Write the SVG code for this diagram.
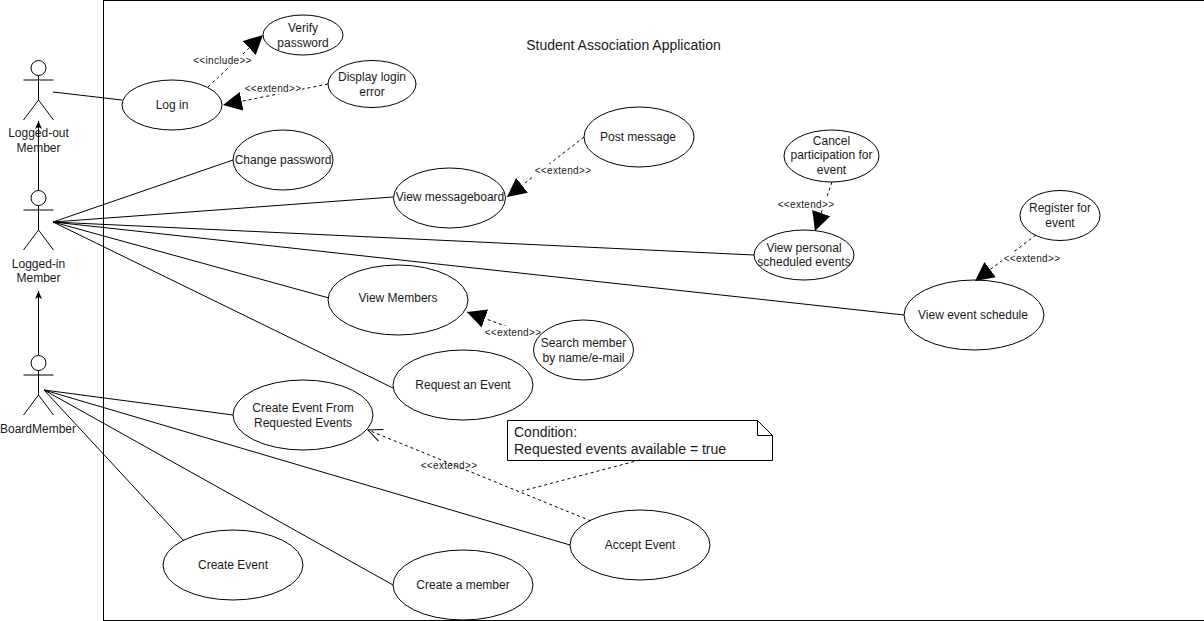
<svg xmlns="http://www.w3.org/2000/svg" width="1204" height="621" viewBox="0 0 1204 621">
<defs>
<style>
text{font-family:"Liberation Sans",Arial,sans-serif;font-size:12px;fill:#1a1a1a;text-anchor:middle}
.uc ellipse{fill:#fff;stroke:#000;stroke-width:1}
.a{fill:none;stroke:#000;stroke-width:1}
.c line{stroke:#000;stroke-width:1;fill:none}
.c line.d{stroke-dasharray:3 3}
.big{marker-end:url(#block)}
.gen{marker-end:url(#small)}
.open{marker-end:url(#open)}
.lb{font-size:10px;letter-spacing:.32px}
.bg{fill:#fff;stroke:none}
</style>
<marker id="block" markerUnits="userSpaceOnUse" markerWidth="22" markerHeight="22" refX="19" refY="10" orient="auto"><path d="M0,0.500L19,10L0,19.500Z" fill="#000"/></marker>
<marker id="small" markerUnits="userSpaceOnUse" markerWidth="10" markerHeight="10" refX="8" refY="4" orient="auto"><path d="M0,0.500L8,4L0,7.500L2,4Z" fill="#000"/></marker>
<marker id="open" markerUnits="userSpaceOnUse" markerWidth="16" markerHeight="16" refX="14.500" refY="7" orient="auto"><path d="M0.500,0.700L14.500,7L0.500,13.300" fill="none" stroke="#000"/></marker>
<g id="stick"><circle cx="0" cy="0" r="7.500" fill="#fff" stroke="#000"/><path class="a" d="M0,7.500V32M-15,12H15M0,32L-15,52M0,32L15,52"/></g>
</defs>
<rect id="system" x="103.500" y="0.500" width="1110" height="620" fill="#fff" stroke="#000"/>
<text id="title" x="623.500" y="50" style="font-size:14px">Student Association Application</text>

<g id="actor-logged-out"><use href="#stick" x="38.500" y="68"/><text x="38.500" y="137">Logged-out</text><text x="38.500" y="152">Member</text></g>
<g id="actor-logged-in"><use href="#stick" x="38.500" y="198"/><text x="38.500" y="268">Logged-in</text><text x="38.500" y="282">Member</text></g>
<g id="actor-board"><use href="#stick" x="38.500" y="363"/><text x="38" y="433">BoardMember</text></g>

<g id="uc-login" class="uc"><ellipse cx="172" cy="105" rx="50" ry="25"/><text x="172" y="109">Log in</text></g>
<g id="uc-verify" class="uc"><ellipse cx="303" cy="35" rx="40" ry="20"/><text x="303" y="32">Verify</text><text x="303" y="47">password</text></g>
<g id="uc-display-error" class="uc"><ellipse cx="372" cy="84" rx="44" ry="23.500"/><text x="372" y="81">Display login</text><text x="372" y="96">error</text></g>
<g id="uc-change-password" class="uc"><ellipse cx="283" cy="160" rx="50" ry="30"/><text x="283" y="164">Change password</text></g>
<g id="uc-messageboard" class="uc"><ellipse cx="449.500" cy="198" rx="56" ry="30"/><text x="450" y="201">View messageboard</text></g>
<g id="uc-post" class="uc"><ellipse cx="639" cy="137" rx="55" ry="30"/><text x="638" y="141">Post message</text></g>
<g id="uc-cancel" class="uc"><ellipse cx="831.500" cy="156" rx="47.500" ry="26"/><text x="831.500" y="145">Cancel</text><text x="831.500" y="159">participation for</text><text x="831.500" y="174">event</text></g>
<g id="uc-personal" class="uc"><ellipse cx="804" cy="255" rx="50" ry="25"/><text x="804" y="252">View personal</text><text x="804" y="266">scheduled events</text></g>
<g id="uc-register" class="uc"><ellipse cx="1060" cy="215.500" rx="40" ry="25"/><text x="1060" y="212">Register for</text><text x="1060" y="227">event</text></g>
<g id="uc-schedule" class="uc"><ellipse cx="974" cy="315" rx="70" ry="35"/><text x="973" y="319">View event schedule</text></g>
<g id="uc-members" class="uc"><ellipse cx="398" cy="300" rx="70" ry="35"/><text x="398" y="302">View Members</text></g>
<g id="uc-search" class="uc"><ellipse cx="583.500" cy="350" rx="50" ry="30"/><text x="583.500" y="347">Search member</text><text x="583.500" y="362">by name/e-mail</text></g>
<g id="uc-request" class="uc"><ellipse cx="463" cy="385" rx="70" ry="35"/><text x="463" y="389">Request an Event</text></g>
<g id="uc-from-requested" class="uc"><ellipse cx="303" cy="415" rx="70" ry="35"/><text x="303" y="412">Create Event From</text><text x="303" y="427">Requested Events</text></g>
<g id="uc-create-event" class="uc"><ellipse cx="233" cy="565" rx="70" ry="35"/><text x="233" y="569">Create Event</text></g>
<g id="uc-create-member" class="uc"><ellipse cx="463" cy="585" rx="70" ry="35"/><text x="463" y="589">Create a member</text></g>
<g id="uc-accept" class="uc"><ellipse cx="640" cy="545" rx="70" ry="35"/><text x="640" y="549">Accept Event</text></g>

<g id="note">
<path d="M507.500,420.500H757.500L772.500,435.500V460.500H507.500Z" fill="#fff" stroke="#000"/>
<path d="M757.500,420.500V435.500H772.500" fill="none" stroke="#000"/>
<text x="514" y="437" style="text-anchor:start;font-size:14px">Condition:</text>
<text x="514" y="454" style="text-anchor:start;font-size:14px">Requested events available = true</text>
</g>

<g id="connectors" class="c">
<line x1="38.500" y1="190" x2="38.500" y2="121" class="gen"/>
<line x1="38.500" y1="355" x2="38.500" y2="291" class="gen"/>
<line x1="53" y1="92" x2="122" y2="100"/>
<line x1="53" y1="222" x2="233" y2="160"/>
<line x1="53" y1="222" x2="393" y2="197"/>
<line x1="53" y1="222" x2="754" y2="255"/>
<line x1="53" y1="222" x2="904" y2="315"/>
<line x1="53" y1="222" x2="329" y2="298"/>
<line x1="53" y1="222" x2="393" y2="388"/>
<line x1="44" y1="390" x2="233" y2="415"/>
<line x1="44" y1="390" x2="570" y2="545"/>
<line x1="44" y1="390" x2="393" y2="585"/>
<line x1="44" y1="390" x2="184" y2="541"/>
<line class="d big" x1="208" y1="87" x2="263" y2="35"/>
<line class="d big" x1="328" y1="84" x2="223" y2="105"/>
<line class="d big" x1="584" y1="137" x2="507" y2="197"/>
<line class="d big" x1="832" y1="182" x2="815" y2="231"/>
<line class="d big" x1="1036" y1="235" x2="975" y2="281"/>
<line class="d big" x1="530" y1="335" x2="467" y2="312"/>
<line class="d open" x1="591" y1="521" x2="368" y2="430"/>
<line class="d" x1="640" y1="460" x2="522" y2="491"/>
</g>

<g id="connector-labels">
<rect class="bg" x="193" y="54" width="59" height="12"/><text class="lb" x="222.500" y="63.500">&lt;&lt;include&gt;&gt;</text>
<rect class="bg" x="244" y="82" width="58" height="12"/><text class="lb" x="273" y="91.500">&lt;&lt;extend&gt;&gt;</text>
<rect class="bg" x="534" y="164" width="58" height="12"/><text class="lb" x="563" y="173.500">&lt;&lt;extend&gt;&gt;</text>
<rect class="bg" x="777" y="198" width="58" height="12"/><text class="lb" x="806" y="207.500">&lt;&lt;extend&gt;&gt;</text>
<rect class="bg" x="1003" y="252" width="58" height="12"/><text class="lb" x="1032" y="261.500">&lt;&lt;extend&gt;&gt;</text>
<rect class="bg" x="484" y="326" width="52" height="12"/><text class="lb" x="513" y="335.500">&lt;&lt;extend&gt;&gt;</text>
<text class="lb" x="449" y="468.500">&lt;&lt;extend&gt;&gt;</text>
</g>
</svg>
